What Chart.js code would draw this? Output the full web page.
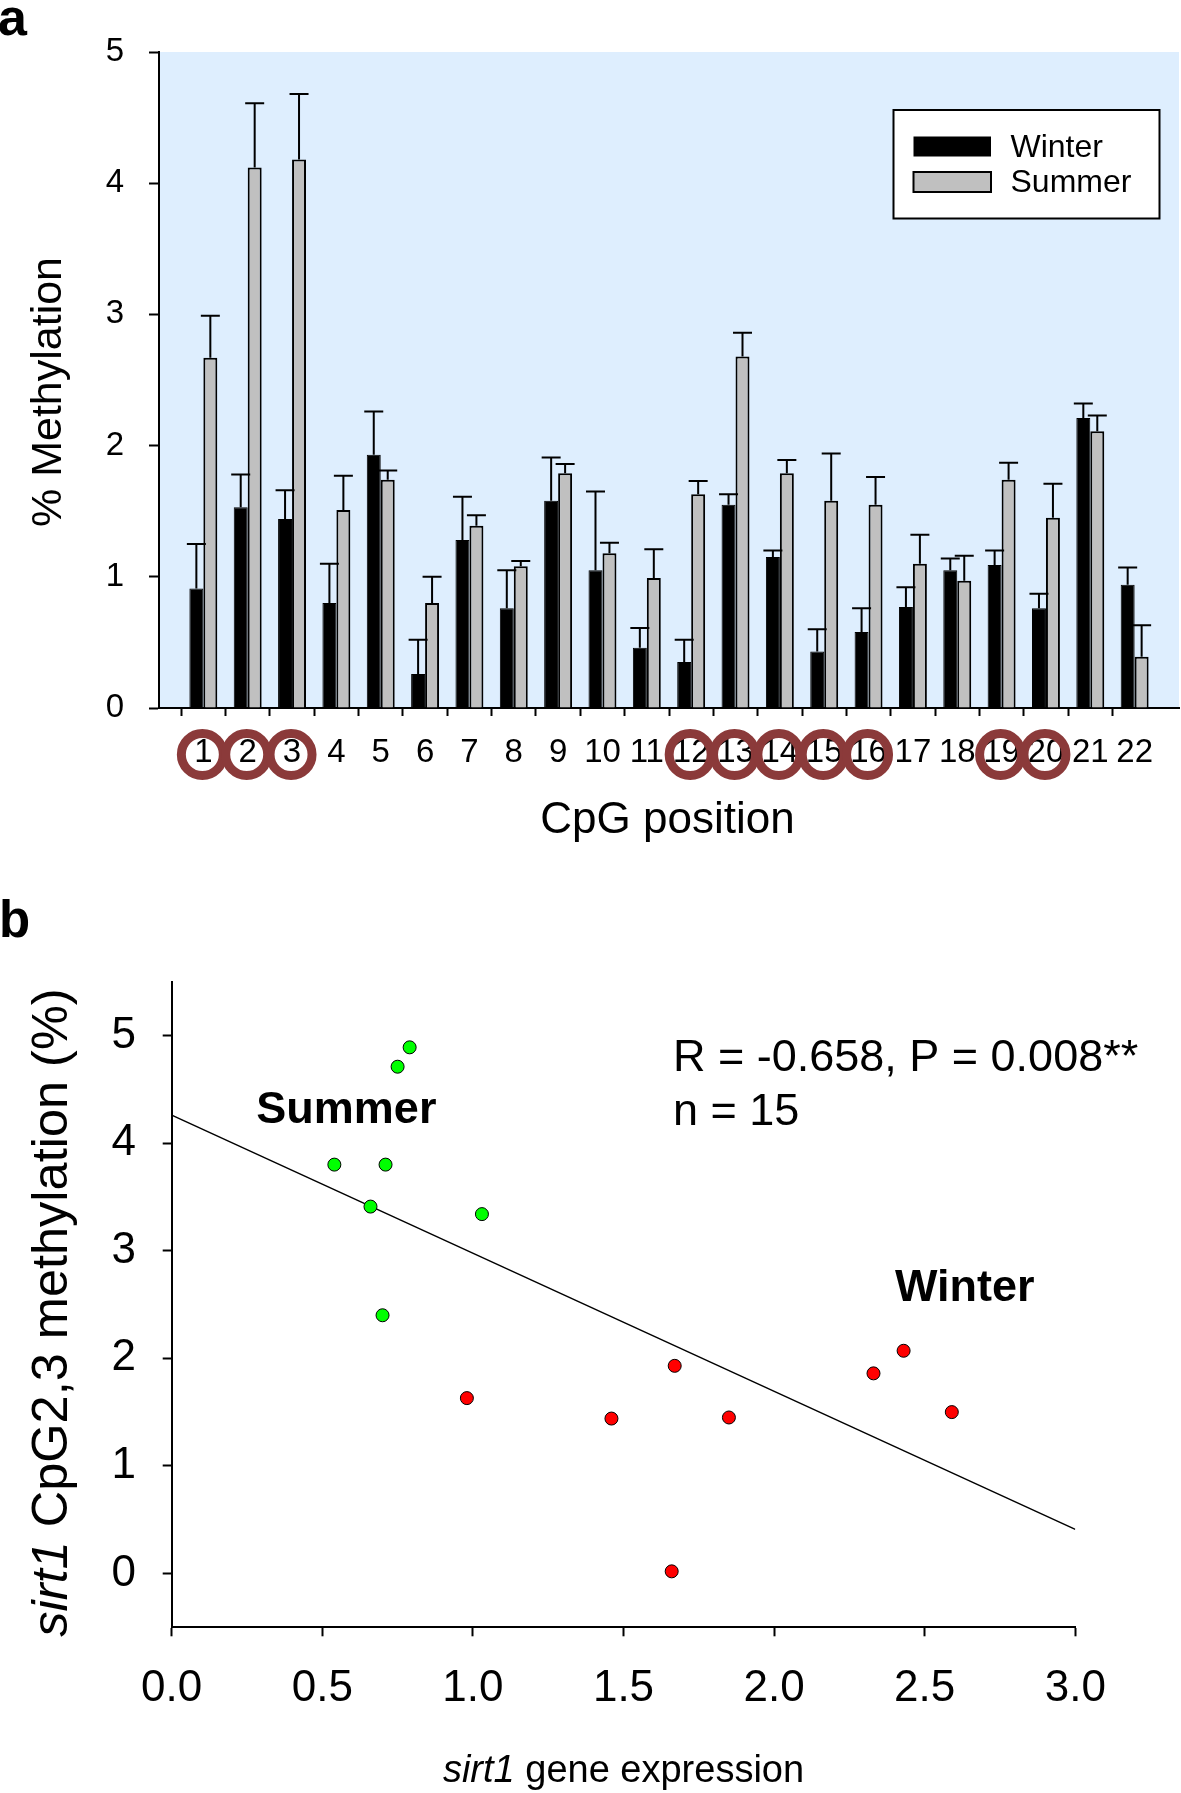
<!DOCTYPE html>
<html>
<head>
<meta charset="utf-8">
<title>sirt1 CpG methylation</title>
<script src="https://cdn.jsdelivr.net/npm/chart.js@4.4.1/dist/chart.umd.min.js"></script>
<style>
    body { margin: 0; background: #fff; }
    #wrap { position: relative; width: 1181px; height: 1793px; }
    canvas { position: absolute; left: 0; }
    #chartA { top: 0; }
    #chartB { top: 860px; }
</style>
</head>
<body>
<div id="wrap">
    <canvas id="chartA" width="1181" height="860"></canvas>
    <canvas id="chartB" width="1181" height="933"></canvas>
</div>
<script>
// Panel a: % methylation per CpG position
const cpgLabels = ['1', '2', '3', '4', '5', '6', '7', '8', '9', '10', '11', '12', '13', '14', '15', '16', '17', '18', '19', '20', '21', '22'];
const winterMean = [0.91, 1.53, 1.44, 0.80, 1.93, 0.26, 1.28, 0.76, 1.58, 1.05, 0.46, 0.35, 1.55, 1.15, 0.43, 0.58, 0.77, 1.05, 1.09, 0.76, 2.21, 0.94];
const winterSE = [0.34, 0.25, 0.22, 0.30, 0.33, 0.26, 0.33, 0.29, 0.33, 0.60, 0.15, 0.17, 0.08, 0.05, 0.17, 0.18, 0.15, 0.09, 0.11, 0.11, 0.11, 0.13];
const summerMean = [2.67, 4.12, 4.18, 1.51, 1.74, 0.80, 1.39, 1.08, 1.79, 1.18, 0.99, 1.63, 2.68, 1.79, 1.58, 1.55, 1.10, 0.97, 1.74, 1.45, 2.11, 0.39];
const summerSE = [0.32, 0.49, 0.50, 0.26, 0.07, 0.20, 0.08, 0.04, 0.07, 0.08, 0.22, 0.10, 0.18, 0.10, 0.36, 0.21, 0.22, 0.19, 0.13, 0.26, 0.12, 0.24];
const circledCpG = ['1', '2', '3', '12', '13', '14', '15', '16', '19', '20'];
const yTicksA = [0, 1, 2, 3, 4, 5];

// Panel b: sirt1 expression vs CpG2,3 methylation
const summerExpr = [0.79, 0.75, 0.54, 0.71, 0.66, 1.03, 0.70];
const summerMeth = [4.89, 4.71, 3.80, 3.80, 3.41, 3.34, 2.40];
const winterExpr = [0.98, 1.46, 1.67, 1.85, 1.66, 2.33, 2.43, 2.59];
const winterMeth = [1.63, 1.44, 1.93, 1.45, 0.02, 1.86, 2.07, 1.50];
const fitExpr = [0, 3];
const fitMeth = [4.26, 0.41];
const xTicksB = [0, 0.5, 1, 1.5, 2, 2.5, 3];
const yTicksB = [0, 1, 2, 3, 4, 5];

const fam = '"Liberation Sans", Arial, Helvetica, sans-serif';
Chart.defaults.font.family = fam;
Chart.defaults.color = '#000';

// empty slot at each end so the bars sit one step in from the axes
const axisLabels = [''].concat(cpgLabels, ['']);
const pad = (arr) => [null].concat(arr, [null]);

const fondoAzul = {
    id: 'fondoAzul',
    beforeDraw(chart) {
        const a = chart.chartArea;
        chart.ctx.save();
        chart.ctx.fillStyle = '#DEEEFE';
        chart.ctx.fillRect(a.left, a.top, a.right - a.left, a.bottom - a.top);
        chart.ctx.restore();
    }
};

const errorBars = {
    id: 'errorBars',
    afterDatasetsDraw(chart) {
        const ctx = chart.ctx;
        const y = chart.scales.y;
        ctx.save();
        ctx.strokeStyle = '#000';
        ctx.lineWidth = 2;
        chart.data.datasets.forEach((ds, d) => {
            const meta = chart.getDatasetMeta(d);
            meta.data.forEach((bar, i) => {
                const v = ds.data[i];
                if (v == null) return;
                const yTop = y.getPixelForValue(v + ds.se[i]);
                ctx.beginPath();
                ctx.moveTo(bar.x, bar.y);
                ctx.lineTo(bar.x, yTop);
                ctx.moveTo(bar.x - 9.5, yTop);
                ctx.lineTo(bar.x + 9.5, yTop);
                ctx.stroke();
            });
        });
        ctx.restore();
    }
};

const panelAExtras = {
    id: 'panelAExtras',
    afterDraw(chart) {
        const ctx = chart.ctx;
        const a = chart.chartArea;
        const x = chart.scales.x;
        ctx.save();
        ctx.fillStyle = '#000';
        ctx.textAlign = 'left';
        ctx.textBaseline = 'alphabetic';

        // panel letter
        ctx.font = 'bold 52px ' + fam;
        ctx.fillText('a', -2, 35);

        // rings around the CpG sites of interest
        ctx.strokeStyle = '#8B3A3A';
        ctx.lineWidth = 9;
        circledCpG.forEach(lab => {
            const px = x.getPixelForValue(axisLabels.indexOf(lab));
            ctx.beginPath();
            ctx.arc(px - 1, x.top + 46.5, 21, 0, Math.PI * 2);
            ctx.stroke();
        });

        // legend
        const lx = a.right - 285.5, ly = a.top + 58;
        ctx.fillStyle = '#fff';
        ctx.fillRect(lx, ly, 266, 108.5);
        ctx.strokeStyle = '#000';
        ctx.lineWidth = 2;
        ctx.strokeRect(lx, ly, 266, 108.5);
        ctx.fillStyle = '#000';
        ctx.fillRect(lx + 20, ly + 26.5, 77.5, 20);
        ctx.fillStyle = '#C0C0C0';
        ctx.fillRect(lx + 20, ly + 62, 77.5, 20);
        ctx.strokeRect(lx + 20, ly + 62, 77.5, 20);
        ctx.fillStyle = '#000';
        ctx.font = '32px ' + fam;
        ctx.fillText('Winter', lx + 117, ly + 47);
        ctx.fillText('Summer', lx + 117, ly + 82);

        // axis titles
        ctx.font = '44px ' + fam;
        ctx.textAlign = 'center';
        ctx.fillText('CpG position', (a.left + a.right) / 2 - 1.5, 833);
        ctx.translate(60.5, (a.top + a.bottom) / 2 + 12);
        ctx.rotate(-Math.PI / 2);
        ctx.font = '43px ' + fam;
        ctx.fillText('% Methylation', 0, 0);
        ctx.restore();
    }
};

const hideEnds = (c) => (c.index === 0 || c.index === axisLabels.length - 1) ? 'rgba(0,0,0,0)' : '#000';

new Chart(document.getElementById('chartA'), {
    type: 'bar',
    data: {
        labels: axisLabels,
        datasets: [{
            label: 'Winter',
            data: pad(winterMean),
            se: pad(winterSE),
            backgroundColor: '#000',
            borderColor: '#000',
            borderWidth: 1
        }, {
            label: 'Summer',
            data: pad(summerMean),
            se: pad(summerSE),
            backgroundColor: '#C0C0C0',
            borderColor: '#000',
            borderWidth: 2
        }]
    },
    options: {
        responsive: false,
        animation: false,
        events: [],
        categoryPercentage: 0.63,
        barPercentage: 1.0,
        layout: { padding: { left: 0, top: 52, right: 2, bottom: 0 } },
        plugins: { legend: { display: false }, tooltip: { enabled: false } },
        scales: {
            x: {
                type: 'category',
                offset: false,
                grid: { drawOnChartArea: false, tickLength: 8, tickWidth: 2, tickColor: hideEnds },
                border: { color: '#000', width: 2 },
                ticks: { font: { size: 33 }, padding: 17.2, autoSkip: false, maxRotation: 0 },
                afterFit: (s) => {
                    s.height = 152;
                    // the tick padding must not shrink the plot on the sides
                    s.paddingLeft = 0;
                    s.paddingRight = 0;
                }
            },
            y: {
                min: 0,
                max: 5,
                afterBuildTicks: (s) => { s.ticks = yTicksA.map(v => ({ value: v })); },
                grid: { drawOnChartArea: false, tickLength: 10, tickWidth: 2, tickColor: '#000' },
                border: { color: '#000', width: 2 },
                ticks: { font: { size: 33 }, padding: 25 },
                afterFit: (s) => { s.width = 159; }
            }
        }
    },
    plugins: [fondoAzul, errorBars, panelAExtras]
});

// text with an italic "sirt1" in front
function drawSirtText(ctx, rest, size, cx, cy) {
    const fItal = 'italic ' + size + 'px ' + fam;
    const fNorm = size + 'px ' + fam;
    ctx.font = fItal;
    const w1 = ctx.measureText('sirt1').width;
    ctx.font = fNorm;
    const w2 = ctx.measureText(rest).width;
    let sx = cx - (w1 + w2) / 2;
    ctx.textAlign = 'left';
    ctx.font = fItal;
    ctx.fillText('sirt1', sx, cy);
    ctx.font = fNorm;
    ctx.fillText(rest, sx + w1, cy);
}

const panelBExtras = {
    id: 'panelBExtras',
    afterDraw(chart) {
        const ctx = chart.ctx;
        const a = chart.chartArea;
        const x = chart.scales.x;
        const y = chart.scales.y;
        ctx.save();
        ctx.fillStyle = '#000';
        ctx.textBaseline = 'alphabetic';
        ctx.textAlign = 'left';

        ctx.font = 'bold 51px ' + fam;
        ctx.fillText('b', -1, 77);

        ctx.font = '45px ' + fam;
        ctx.fillText('R = -0.658, P = 0.008**', x.getPixelForValue(1.664), y.getPixelForValue(4.668));
        ctx.fillText('n = 15', x.getPixelForValue(1.664), y.getPixelForValue(4.164));

        ctx.font = 'bold 45px ' + fam;
        ctx.fillText('Summer', x.getPixelForValue(0.281), y.getPixelForValue(4.19));
        ctx.fillText('Winter', x.getPixelForValue(2.401), y.getPixelForValue(2.531));

        // axis titles
        drawSirtText(ctx, ' gene expression', 38, (a.left + a.right) / 2, 922);
        ctx.translate(67, (a.top + a.bottom) / 2 + 8);
        ctx.rotate(-Math.PI / 2);
        drawSirtText(ctx, ' CpG2,3 methylation (%)', 50.5, 0, 0);
        ctx.restore();
    }
};

const toPoints = (xs, ys) => xs.map((v, i) => ({ x: v, y: ys[i] }));

new Chart(document.getElementById('chartB'), {
    type: 'scatter',
    data: {
        datasets: [{
            label: 'Summer',
            data: toPoints(summerExpr, summerMeth),
            backgroundColor: '#00FF00',
            borderColor: '#000',
            borderWidth: 1,
            pointRadius: 6.5,
            order: 1
        }, {
            label: 'Winter',
            data: toPoints(winterExpr, winterMeth),
            backgroundColor: '#FF0000',
            borderColor: '#000',
            borderWidth: 1,
            pointRadius: 6.5,
            order: 1
        }, {
            type: 'line',
            label: 'Fit',
            data: toPoints(fitExpr, fitMeth),
            borderColor: '#000',
            borderWidth: 1.5,
            pointRadius: 0,
            fill: false,
            order: 2
        }]
    },
    options: {
        responsive: false,
        animation: false,
        events: [],
        layout: { padding: { left: 0, top: 121.7, right: 105.7, bottom: 0 } },
        plugins: { legend: { display: false }, tooltip: { enabled: false } },
        scales: {
            x: {
                type: 'linear',
                min: 0,
                max: 3,
                afterBuildTicks: (s) => { s.ticks = xTicksB.map(v => ({ value: v })); },
                grid: { drawOnChartArea: false, tickLength: 9, tickWidth: 2, tickColor: '#000' },
                border: { color: '#000', width: 2 },
                ticks: { font: { size: 44 }, padding: 26, maxRotation: 0, callback: (v) => Number(v).toFixed(1) },
                afterFit: (s) => { s.height = 165.7; }
            },
            y: {
                type: 'linear',
                min: -0.5,
                max: 5.5,
                afterBuildTicks: (s) => { s.ticks = yTicksB.map(v => ({ value: v })); },
                grid: { drawOnChartArea: false, tickLength: 9, tickWidth: 2, tickColor: '#000' },
                border: { color: '#000', width: 2 },
                ticks: { font: { size: 44 }, padding: 26.7 },
                afterFit: (s) => { s.width = 171.7; }
            }
        }
    },
    plugins: [panelBExtras]
});
</script>
</body>
</html>
